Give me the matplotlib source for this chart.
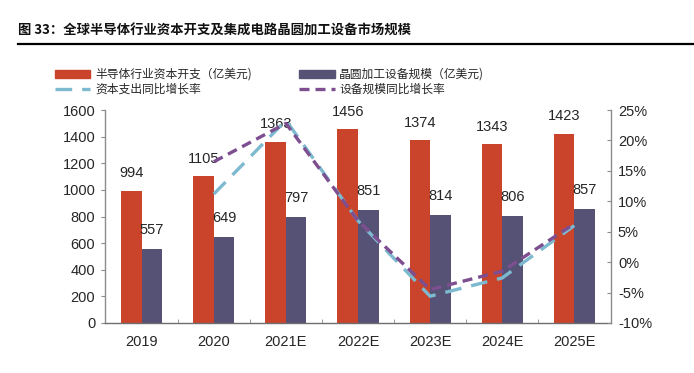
import matplotlib
matplotlib.use("Agg")
import matplotlib.pyplot as plt
from matplotlib.patches import Patch
from matplotlib.lines import Line2D
from matplotlib.ticker import FuncFormatter
import numpy as np

plt.rcParams['font.family'] = ['Liberation Sans', 'Noto Sans CJK SC', 'DejaVu Sans']

categories = ["2019", "2020", "2021E", "2022E", "2023E", "2024E", "2025E"]
capex = [994, 1105, 1363, 1456, 1374, 1343, 1423]
equipment = [557, 649, 797, 851, 814, 806, 857]
capex_growth = [np.nan, 11.2, 23.3, 6.8, -5.6, -2.6, 6.0]
equip_growth = [np.nan, 16.5, 22.8, 6.8, -4.5, -1.5, 6.3]

title = "图 33：全球半导体行业资本开支及集成电路晶圆加工设备市场规模"
legend_labels = ["半导体行业资本开支（亿美元)", "资本支出同比增长率",
                 "晶圆加工设备规模（亿美元)", "设备规模同比增长率"]

c_red = "#C9442A"
c_purple = "#565275"
c_blue = "#7DB9CF"
c_dpurple = "#7D4E90"
axis_col = "#8C8C8C"
txt_col = "#262626"

fig = plt.figure(figsize=(6.94, 3.73), dpi=100)
ax = fig.add_axes([105/694, 1-323/373, (611-105)/694, (323-110)/373])
ax2 = ax.twinx()

x = np.arange(len(categories))
w = 0.285
b1 = ax.bar(x - w/2, capex, w, color=c_red, zorder=2)
b2 = ax.bar(x + w/2, equipment, w, color=c_purple, zorder=2)

for xi, v in zip(x - w/2, capex):
    ax.annotate(str(v), (xi, v), xytext=(0, 12.5), textcoords="offset points",
                ha="center", va="center", fontsize=10.5, color=txt_col)
for xi, v in zip(x + w/2, equipment):
    ax.annotate(str(v), (xi, v), xytext=(0, 13.5), textcoords="offset points",
                ha="center", va="center", fontsize=10.5, color=txt_col)

ax2.plot(x, np.array(capex_growth)/100, color=c_blue, lw=2.4,
         dashes=(5, 3), zorder=3)
ax2.plot(x, np.array(equip_growth)/100, color=c_dpurple, lw=2.4,
         dashes=(3, 1.8), zorder=3)

ax.set_xlim(-0.51, 6.51)
ax.set_ylim(0, 1600)
ax.set_yticks(np.arange(0, 1601, 200))
ax2.set_ylim(-0.10, 0.25)
ax2.set_yticks(np.arange(-0.10, 0.2501, 0.05))
ax2.yaxis.set_major_formatter(FuncFormatter(lambda v, p: f"{round(v*100):d}%"))

ax.set_xticks(x)
ax.set_xticklabels(categories)
ax.set_xticks(np.arange(0.5, 6.5, 1), minor=True)
ax.tick_params(axis='x', which='major', length=0, pad=9, labelsize=10.5, labelcolor=txt_col)
ax.tick_params(axis='x', which='minor', length=3, direction='in', color=axis_col)
ax.tick_params(axis='y', length=3, direction='out', color=axis_col, labelsize=10.5,
               labelcolor=txt_col, pad=4)
ax2.tick_params(axis='y', length=3, direction='in', color=axis_col, labelsize=10.5,
                labelcolor=txt_col, pad=5)

for a in (ax, ax2):
    a.spines['top'].set_visible(False)
    for s in ('left', 'right', 'bottom'):
        a.spines[s].set_color(axis_col)
        a.spines[s].set_linewidth(1.0)
ax.spines['right'].set_visible(False)
ax2.spines['left'].set_visible(False)
ax2.spines['bottom'].set_visible(False)
ax.spines['bottom'].set_color("#6E6E6E")

# title
fig.text(18/694, 1-31/373, title, fontsize=9.6, fontweight='bold',
         family=['Noto Sans CJK SC', 'DejaVu Sans'], ha='left', va='center', color='#111111')
fig.add_artist(Line2D([18/694, 1.0], [1-44/373, 1-44/373], color='black', lw=1.6,
                      transform=fig.transFigure))

handles = [Patch(color=c_red),
           Line2D([], [], color=c_blue, lw=2.4, dashes=(5, 3)),
           Patch(color=c_purple),
           Line2D([], [], color=c_dpurple, lw=2.4, dashes=(3, 1.8))]
leg = fig.legend(handles, legend_labels, ncol=2, loc='upper left',
                 bbox_to_anchor=(55/694, 1-68/373), frameon=False,
                 prop={'family': ['Noto Sans CJK SC', 'DejaVu Sans'], 'size': 8.5},
                 handlelength=3.0, handletextpad=0.4, columnspacing=4.0,
                 labelspacing=0.15, borderpad=0, borderaxespad=0, handleheight=0.6)
for t in leg.get_texts():
    t.set_color(txt_col)

fig.savefig("out.png", dpi=100)
